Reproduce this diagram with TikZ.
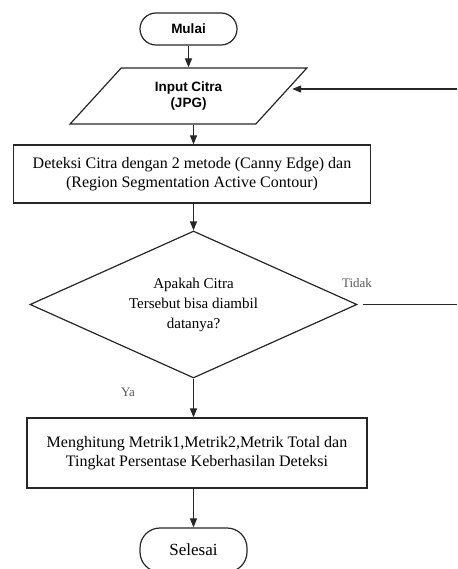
\documentclass[tikz,border=0pt]{standalone}
\usepackage{fontspec}
\setmainfont{Liberation Serif}
\setsansfont{Liberation Sans}
\usetikzlibrary{shapes.geometric,arrows.meta,calc}

\tikzset{
	garis/.style={draw=black!85, line width=1.2pt},
	panah/.style={garis, -{Triangle[length=9pt,width=7pt]}},
	terminal/.style={garis, rectangle, rounded corners=16pt, align=center},
	masukan/.style={garis, trapezium, trapezium left angle=51, trapezium right angle=129,
		trapezium stretches=true, minimum width=237pt, minimum height=56pt, align=center,
		font=\sffamily\bfseries\fontsize{13.5}{15.5}\selectfont},
	proses/.style={garis, rectangle, align=center, font=\fontsize{16}{19.5}\selectfont},
	keputusan/.style={garis, diamond, aspect=2.22, inner sep=0pt, minimum width=327pt,
		minimum height=147pt, align=center, font=\fontsize{15}{20}\selectfont},
	ket/.style={text=black!65, font=\fontsize{13}{15}\selectfont}
}

\begin{document}
\begin{tikzpicture}[x=1pt,y=-1pt]
		\useasboundingbox (0,0) rectangle (457,569);
		\node[terminal, minimum width=97pt, minimum height=32pt,
			font=\sffamily\bfseries\fontsize{13.5}{15.5}\selectfont] (mulai) at (188.5,29) {Mulai};
		\node[masukan] (input) at (188.5,96) {Input Citra\\(JPG)};
		\node[proses, minimum width=357pt, minimum height=58pt] (deteksi) at (192,174)
			{Deteksi Citra dengan 2 metode (Canny Edge) dan\\(Region Segmentation Active Contour)};
		\node[keputusan] (cek) at (193.5,304.5) {Apakah Citra\\Tersebut bisa diambil\\datanya?};
		\node[proses, minimum width=340pt, minimum height=70pt] (hitung) at (197,453)
			{Menghitung Metrik1,Metrik2,Metrik Total dan\\Tingkat Persentase Keberhasilan Deteksi};
		\node[terminal, minimum width=107pt, minimum height=44pt, rounded corners=20pt,
			font=\fontsize{17}{19}\selectfont] (selesai) at (193.5,550) {Selesai};
		
		\node[ket] (tidak) at (357,283) {Tidak};
		\node[ket] (ya) at (128,392) {Ya};
		\coordinate (kanan1) at (457,304.5);
		\coordinate (kanan2) at (457,89);
		
		\draw[panah] (mulai) -- (input);
		\draw[panah] (input.south -| cek.north) -- (deteksi.north -| cek.north);
		\draw[panah] (deteksi.south -| cek.north) -- (cek.north);
		\draw[panah] (cek.south) -- (cek.south |- hitung.north);
		\draw[panah] (hitung.south -| selesai.north) -- (selesai.north);
		\draw[garis, shorten <=5pt] (cek.east) -- (kanan1 |- cek.east);
		\draw[panah] (kanan2) -- ($(input.east |- kanan2)+(10,0)$);
\end{tikzpicture}
\end{document}
